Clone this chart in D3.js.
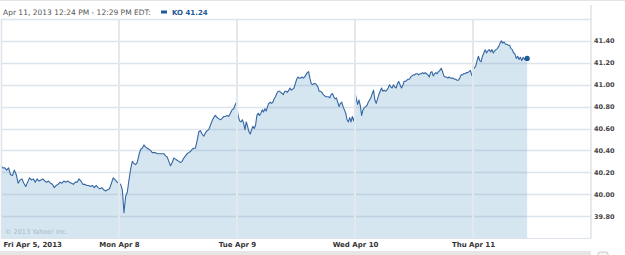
<!DOCTYPE html>
<html>
<head>
<meta charset="utf-8">
<script src="https://cdn.jsdelivr.net/npm/d3@7"></script>
<style>
body { margin: 0; background: #fff; }
text { font-family: "DejaVu Sans", Verdana, sans-serif; }
</style>
</head>
<body>
<svg id="chart" width="625" height="255"></svg>
<script>
// KO intraday, Fri Apr 5 - Thu Apr 11 2013
// each day's prices are spread evenly over its trading session

var dayLabels = ["Fri Apr 5, 2013", "Mon Apr 8", "Tue Apr 9", "Wed Apr 10", "Thu Apr 11"];
var sessionMinutes = [390, 390, 390, 390, 179]; // Thursday stops at 12:29 PM

var friPrices = [40.26,40.24,40.24,40.22,40.24,40.18,40.17,40.22,40.18,40.10,40.13,40.14,40.10,40.07,40.11,40.15,
  40.13,40.14,40.11,40.14,40.12,40.13,40.14,40.12,40.11,40.12,40.10,40.09,40.06,40.08,40.09,40.11,40.10,40.12,
  40.11,40.12,40.11,40.10,40.09,40.11,40.11,40.14,40.12,40.09,40.09,40.08,40.08,40.07,40.08,40.06,40.08,40.06,
  40.05,40.06,40.04,40.03,40.04,40.05,40.10,40.15,40.13,40.11,40.10];

var monPrices = [40.10,40.09,40.04,39.83,39.98,40.02,40.13,40.23,40.30,40.28,40.27,40.29,40.36,40.41,40.42,40.45,
  40.43,40.42,40.41,40.40,40.38,40.38,40.38,40.37,40.37,40.37,40.37,40.37,40.35,40.34,40.30,40.26,40.29,40.33,
  40.32,40.31,40.30,40.29,40.30,40.33,40.35,40.37,40.38,40.39,40.41,40.42,40.42,40.49,40.57,40.58,40.55,40.53,
  40.56,40.58,40.59,40.63,40.67,40.70,40.72,40.70,40.69,40.68,40.69,40.71,40.71,40.72,40.71,40.74,40.77,40.78,
  40.82,40.85];

var tuePrices = [40.78,40.71,40.67,40.66,40.68,40.65,40.59,40.66,40.62,40.57,40.55,40.59,40.62,40.60,40.63,40.72,
  40.74,40.72,40.74,40.77,40.75,40.78,40.76,40.80,40.83,40.84,40.83,40.84,40.87,40.89,40.92,40.94,40.94,40.93,
  40.92,40.91,40.94,40.94,40.93,40.95,40.97,40.95,40.96,40.97,41.01,41.05,41.07,41.06,41.06,41.07,41.06,41.07,
  41.09,41.11,41.12,41.06,41.01,41.00,41.01,41.01,41.00,40.98,40.94,40.94,40.93,40.91,40.90,40.89,40.89,40.89,
  40.88,40.91,40.92,40.89,40.87,40.88,40.84,40.80,40.83,40.84,40.80,40.77,40.74,40.68,40.66,40.70,40.66,40.71,
  40.67,40.72];

var wedPrices = [40.93,40.87,40.82,40.86,40.81,40.72,40.77,40.79,40.80,40.81,40.84,40.86,40.88,40.92,40.95,40.86,
  40.83,40.87,40.91,40.94,40.97,40.94,40.95,40.94,40.95,40.97,41.00,40.98,40.97,41.00,40.98,40.97,41.01,41.03,
  41.00,40.97,40.99,41.03,41.03,41.04,41.05,41.05,41.07,41.08,41.09,41.09,41.10,41.10,41.09,41.10,41.10,41.11,
  41.10,41.11,41.10,41.09,41.07,41.11,41.12,41.08,41.10,41.11,41.10,41.12,41.13,41.15,41.12,41.08,41.07,41.07,
  41.06,41.07,41.06,41.06,41.06,41.05,41.05,41.04,41.04,41.06,41.09,41.09,41.10,41.10,41.11,41.11,41.12,41.13,
  41.09,41.07];

var thuPrices = [41.16,41.15,41.17,41.22,41.26,41.22,41.21,41.26,41.29,41.32,41.29,41.31,41.32,41.30,41.32,41.29,
  41.31,41.32,41.33,41.35,41.38,41.40,41.38,41.39,41.37,41.37,41.36,41.36,41.33,41.32,41.29,41.28,41.24,41.26,
  41.23,41.25,41.22,41.25,41.23,41.24,41.24];

var yTicks = [39.80, 40.00, 40.20, 40.40, 40.60, 40.80, 41.00, 41.20, 41.40];
var headerText = "Apr 11, 2013 12:24 PM - 12:29 PM EDT:";
var legendText = "KO 41.24";
var creditText = "\u00a9 2013 Yahoo! Inc.";

var svg = d3.select("#chart");
var width = 625, height = 255;
var margin = {top: 19, right: 34, bottom: 17, left: 1};
var plotRight = width - margin.right;   // 591
var plotBottom = height - margin.bottom; // 238

var x = d3.scaleLinear().domain([0, 5]).range([margin.left, plotRight]);
var y = d3.scaleLinear().domain([39.6, 41.6]).range([plotBottom, margin.top]);

// flatten days into one series on a "trading day" axis
var points = [];
[friPrices, monPrices, tuePrices, wedPrices, thuPrices].forEach(function(prices, d) {
  var span = sessionMinutes[d] / 390;
  prices.forEach(function(p, i) {
    points.push({t: d + span * i / (prices.length - 1), v: p});
  });
});

svg.append("rect").attr("width", width).attr("height", height).attr("fill", "#fff");

// thin top rule
svg.append("line")
  .attr("x1", 0).attr("x2", width).attr("y1", 0.5).attr("y2", 0.5)
  .attr("stroke", "#e6e6e6");

var area = d3.area()
  .x(function(d) { return x(d.t); })
  .y0(plotBottom)
  .y1(function(d) { return y(d.v); });

svg.append("path")
  .datum(points)
  .attr("d", area)
  .attr("fill", "#d6e6f1");

// horizontal grid
svg.append("g").selectAll("line")
  .data(yTicks.concat([41.6]))
  .enter().append("line")
  .attr("x1", margin.left).attr("x2", plotRight)
  .attr("y1", function(d) { return Math.round(y(d)) + 0.5; })
  .attr("y2", function(d) { return Math.round(y(d)) + 0.5; })
  .attr("stroke", "rgba(120,150,180,0.25)")
  .attr("stroke-width", 1.4);

var line = d3.line()
  .x(function(d) { return x(d.t); })
  .y(function(d) { return y(d.v); });

svg.append("path")
  .datum(points)
  .attr("d", line)
  .attr("fill", "none")
  .attr("stroke", "#3567a2")
  .attr("stroke-width", 1.1)
  .attr("stroke-linejoin", "round");

// day separators sit on top of the line
svg.append("g").selectAll("line")
  .data([1, 2, 3, 4])
  .enter().append("line")
  .attr("x1", function(d) { return x(d); })
  .attr("x2", function(d) { return x(d); })
  .attr("y1", margin.top).attr("y2", plotBottom)
  .attr("stroke", "#e1e8ee")
  .attr("stroke-width", 2);

// frame
svg.append("line")
  .attr("x1", margin.left + 0.5).attr("x2", margin.left + 0.5)
  .attr("y1", margin.top).attr("y2", plotBottom)
  .attr("stroke", "#dce3ea").attr("stroke-width", 1.5);
svg.append("line")
  .attr("x1", plotRight).attr("x2", plotRight)
  .attr("y1", 5).attr("y2", plotBottom)
  .attr("stroke", "#dce3ea").attr("stroke-width", 1.5);
svg.append("line")
  .attr("x1", margin.left).attr("x2", plotRight)
  .attr("y1", plotBottom + 0.5).attr("y2", plotBottom + 0.5)
  .attr("stroke", "#dce3ea");

// last quote marker
var last = points[points.length - 1];
svg.append("circle")
  .attr("cx", x(last.t)).attr("cy", y(last.v))
  .attr("r", 2.6)
  .attr("fill", "#1f5a98");

// axes
var yAxis = d3.axisRight(y)
  .tickValues(yTicks)
  .tickSize(0)
  .tickPadding(3)
  .tickFormat(d3.format(".2f"));
var yGroup = svg.append("g")
  .attr("transform", "translate(" + plotRight + ",0)")
  .call(yAxis);
yGroup.select(".domain").remove();
yGroup.selectAll("text")
  .attr("font-family", "DejaVu Sans, Verdana, sans-serif")
  .attr("font-size", 6.5)
  .attr("font-weight", "bold")
  .attr("fill", "#444");

var xAxis = d3.axisBottom(x)
  .tickValues([0, 1, 2, 3, 4])
  .tickSize(0)
  .tickPadding(4)
  .tickFormat(function(d) { return dayLabels[d]; });
var xGroup = svg.append("g")
  .attr("transform", "translate(0," + plotBottom + ")")
  .call(xAxis);
xGroup.select(".domain").remove();
xGroup.selectAll("text")
  .attr("font-family", "DejaVu Sans, Verdana, sans-serif")
  .attr("font-size", 7)
  .attr("font-weight", "bold")
  .attr("fill", "#333");
xGroup.selectAll("text").filter(function(d) { return d === 0; })
  .attr("text-anchor", "start")
  .attr("x", 2);

// header
svg.append("text")
  .attr("x", 3).attr("y", 15)
  .attr("font-size", 7.5)
  .attr("fill", "#555")
  .text(headerText);
svg.append("rect")
  .attr("x", 161).attr("y", 10.5)
  .attr("width", 6).attr("height", 3)
  .attr("fill", "#1f5a98");
svg.append("text")
  .attr("x", 172).attr("y", 15)
  .attr("font-size", 7)
  .attr("font-weight", "bold")
  .attr("fill", "#1f5a98")
  .text(legendText);

// credit
svg.append("text")
  .attr("x", 5).attr("y", 234)
  .attr("font-size", 6.5)
  .attr("fill", "#a9b9c8")
  .text(creditText);

// navigator strip at the bottom
svg.append("rect")
  .attr("x", 0).attr("y", 251)
  .attr("width", plotRight).attr("height", 4)
  .attr("fill", "#e6e6e6");
svg.append("rect")
  .attr("x", 598).attr("y", 252)
  .attr("width", 10).attr("height", 6)
  .attr("rx", 2)
  .attr("fill", "#f4f4f4")
  .attr("stroke", "#c8c8c8");
</script>
</body>
</html>
